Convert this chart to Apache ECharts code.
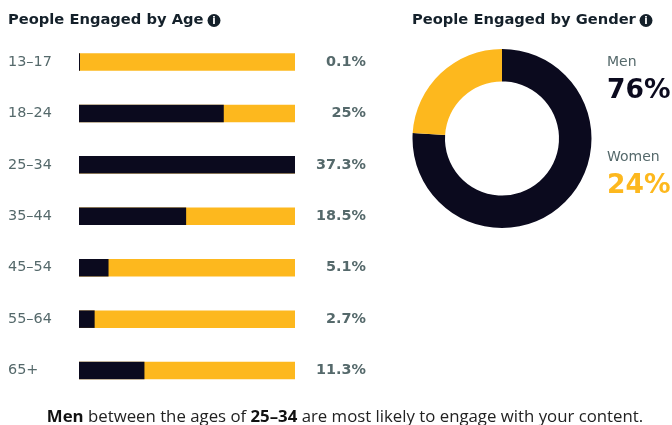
<!DOCTYPE html>
<html>
<head>
<meta charset="utf-8">
<style>html,body{margin:0;padding:0;background:#fff}#c{width:672px;height:425px}</style>
<script src="https://cdn.jsdelivr.net/npm/echarts@6/dist/echarts.min.js"></script>
</head>
<body>
<div id="c"></div>
<script>
const ageGroups = ['13–17','18–24','25–34','35–44','45–54','55–64','65+'];
const agePercent = [0.1,25,37.3,18.5,5.1,2.7,11.3];
const ageMax = 37.3;
const genderNames = ['Men','Women'];
const genderPercent = [76,24];
const DARK = '#0b0a1e', YEL = '#fdb81e', GREY = '#55696b';
const FONT = '"DejaVu Sans", sans-serif';

const chart = echarts.init(document.getElementById('c'), null, {renderer:'canvas'});
function infoIcon(cx, cy){
  return [
    {type:'circle', shape:{cx, cy, r:6.5}, style:{fill:'#14202a'}},
    {type:'text', x:cx, y:cy+0.5, style:{text:'i', fill:'#fff', font:'bold 10px '+FONT, align:'center', verticalAlign:'middle'}}
  ];
}
function txt(x,y,text,font,fill,align){
  return {type:'text', x, y, style:{text, font:font+' '+FONT, fill, align:align||'left', verticalAlign:'middle'}};
}
chart.setOption({
  animation:false,
  backgroundColor:'#fff',
  grid:{left:79, width:216, top:36.3, height:360, containLabel:false},
  xAxis:{type:'value', min:0, max:ageMax, show:false},
  yAxis:[
    {type:'category', inverse:true, data:ageGroups,
     axisLine:{show:false}, axisTick:{show:false},
     axisLabel:{align:'left', margin:71, color:GREY, fontFamily:FONT, fontSize:14.4}},
    {type:'category', inverse:true, position:'right', data:agePercent.map(v=>v+'%'),
     axisLine:{show:false}, axisTick:{show:false},
     axisLabel:{align:'right', margin:71, color:GREY, fontFamily:FONT, fontSize:14.4, fontWeight:'bold'}}
  ],
  series:[
    {type:'bar', barWidth:17.5, barGap:'-100%', silent:true, z:1,
     data:agePercent.map(()=>ageMax), itemStyle:{color:YEL}},
    {type:'bar', barWidth:17.5, barGap:'-100%', z:2, barMinHeight:1,
     data:agePercent, itemStyle:{color:DARK}},
    {type:'pie', center:[502,138.5], radius:[57,89.5], startAngle:90, clockwise:true,
     label:{show:false}, labelLine:{show:false}, silent:true,
     data:genderNames.map((n,i)=>({name:n, value:genderPercent[i], itemStyle:{color:i?YEL:DARK}}))}
  ],
  graphic:[
    txt(8,20,'People Engaged by Age','bold 14.7px','#14202a'),
    ...infoIcon(214,20.5),
    txt(412,20,'People Engaged by Gender','bold 14.7px','#14202a'),
    ...infoIcon(646,20.5),
    txt(607,62,genderNames[0],'14px',GREY),
    txt(607,91,genderPercent[0]+'%','bold 26.5px',DARK),
    txt(607,157,genderNames[1],'14px',GREY),
    txt(607,186,genderPercent[1]+'%','bold 26.5px',YEL),
    {type:'text', x:345, y:417, style:{
      text:'{b|Men} between the ages of {b|25–34} are most likely to engage with your content.',
      align:'center', verticalAlign:'middle',
      rich:{b:{font:'bold 16.8px "Open Sans", sans-serif', fill:'#111'}},
      font:'16.8px "Open Sans", sans-serif', fill:'#222'}}
  ]
});
</script>
</body>
</html>
